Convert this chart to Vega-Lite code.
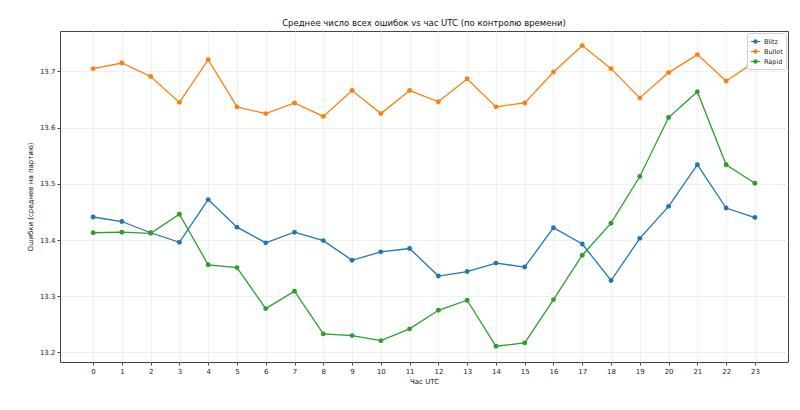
{
  "$schema": "https://vega.github.io/schema/vega-lite/v6.json",
  "width": 728,
  "height": 331,
  "autosize": {"type": "none"},
  "padding": {"left": 60, "top": 31, "right": 12, "bottom": 48},
  "background": "white",
  "title": {
    "text": "Среднее число всех ошибок vs час UTC (по контролю времени)",
    "font": "DejaVu Sans",
    "fontSize": 8.5,
    "fontWeight": "normal",
    "color": "#111",
    "offset": 4
  },
  "config": {
    "view": {"stroke": "#444", "strokeWidth": 1},
    "axis": {
      "labelFont": "DejaVu Sans",
      "titleFont": "DejaVu Sans",
      "labelFontSize": 7,
      "titleFontSize": 7,
      "titleFontWeight": "normal",
      "labelColor": "#222",
      "titleColor": "#111",
      "gridColor": "#ececec",
      "gridWidth": 0.8,
      "domain": false,
      "tickColor": "#444",
      "tickSize": 3
    }
  },
  "data": {
    "values": [
      {"hour": 0, "tc": "Blitz", "err": 13.441},
      {"hour": 1, "tc": "Blitz", "err": 13.433},
      {"hour": 2, "tc": "Blitz", "err": 13.413},
      {"hour": 3, "tc": "Blitz", "err": 13.396},
      {"hour": 4, "tc": "Blitz", "err": 13.472},
      {"hour": 5, "tc": "Blitz", "err": 13.423},
      {"hour": 6, "tc": "Blitz", "err": 13.395},
      {"hour": 7, "tc": "Blitz", "err": 13.414},
      {"hour": 8, "tc": "Blitz", "err": 13.399},
      {"hour": 9, "tc": "Blitz", "err": 13.364},
      {"hour": 10, "tc": "Blitz", "err": 13.379},
      {"hour": 11, "tc": "Blitz", "err": 13.385},
      {"hour": 12, "tc": "Blitz", "err": 13.336},
      {"hour": 13, "tc": "Blitz", "err": 13.344},
      {"hour": 14, "tc": "Blitz", "err": 13.359},
      {"hour": 15, "tc": "Blitz", "err": 13.352},
      {"hour": 16, "tc": "Blitz", "err": 13.422},
      {"hour": 17, "tc": "Blitz", "err": 13.393},
      {"hour": 18, "tc": "Blitz", "err": 13.328},
      {"hour": 19, "tc": "Blitz", "err": 13.403},
      {"hour": 20, "tc": "Blitz", "err": 13.46},
      {"hour": 21, "tc": "Blitz", "err": 13.534},
      {"hour": 22, "tc": "Blitz", "err": 13.457},
      {"hour": 23, "tc": "Blitz", "err": 13.44},
      {"hour": 0, "tc": "Bullet", "err": 13.705},
      {"hour": 1, "tc": "Bullet", "err": 13.715},
      {"hour": 2, "tc": "Bullet", "err": 13.691},
      {"hour": 3, "tc": "Bullet", "err": 13.645},
      {"hour": 4, "tc": "Bullet", "err": 13.721},
      {"hour": 5, "tc": "Bullet", "err": 13.637},
      {"hour": 6, "tc": "Bullet", "err": 13.625},
      {"hour": 7, "tc": "Bullet", "err": 13.644},
      {"hour": 8, "tc": "Bullet", "err": 13.62},
      {"hour": 9, "tc": "Bullet", "err": 13.666},
      {"hour": 10, "tc": "Bullet", "err": 13.625},
      {"hour": 11, "tc": "Bullet", "err": 13.666},
      {"hour": 12, "tc": "Bullet", "err": 13.646},
      {"hour": 13, "tc": "Bullet", "err": 13.687},
      {"hour": 14, "tc": "Bullet", "err": 13.637},
      {"hour": 15, "tc": "Bullet", "err": 13.644},
      {"hour": 16, "tc": "Bullet", "err": 13.699},
      {"hour": 17, "tc": "Bullet", "err": 13.746},
      {"hour": 18, "tc": "Bullet", "err": 13.705},
      {"hour": 19, "tc": "Bullet", "err": 13.653},
      {"hour": 20, "tc": "Bullet", "err": 13.698},
      {"hour": 21, "tc": "Bullet", "err": 13.73},
      {"hour": 22, "tc": "Bullet", "err": 13.683},
      {"hour": 23, "tc": "Bullet", "err": 13.717},
      {"hour": 0, "tc": "Rapid", "err": 13.413},
      {"hour": 1, "tc": "Rapid", "err": 13.414},
      {"hour": 2, "tc": "Rapid", "err": 13.412},
      {"hour": 3, "tc": "Rapid", "err": 13.446},
      {"hour": 4, "tc": "Rapid", "err": 13.356},
      {"hour": 5, "tc": "Rapid", "err": 13.351},
      {"hour": 6, "tc": "Rapid", "err": 13.278},
      {"hour": 7, "tc": "Rapid", "err": 13.309},
      {"hour": 8, "tc": "Rapid", "err": 13.233},
      {"hour": 9, "tc": "Rapid", "err": 13.23},
      {"hour": 10, "tc": "Rapid", "err": 13.221},
      {"hour": 11, "tc": "Rapid", "err": 13.242},
      {"hour": 12, "tc": "Rapid", "err": 13.275},
      {"hour": 13, "tc": "Rapid", "err": 13.293},
      {"hour": 14, "tc": "Rapid", "err": 13.211},
      {"hour": 15, "tc": "Rapid", "err": 13.217},
      {"hour": 16, "tc": "Rapid", "err": 13.294},
      {"hour": 17, "tc": "Rapid", "err": 13.373},
      {"hour": 18, "tc": "Rapid", "err": 13.43},
      {"hour": 19, "tc": "Rapid", "err": 13.513},
      {"hour": 20, "tc": "Rapid", "err": 13.618},
      {"hour": 21, "tc": "Rapid", "err": 13.664},
      {"hour": 22, "tc": "Rapid", "err": 13.534},
      {"hour": 23, "tc": "Rapid", "err": 13.501}
    ]
  },
  "mark": {
    "type": "line",
    "strokeWidth": 1.3,
    "point": {"filled": true, "size": 24, "opacity": 1}
  },
  "encoding": {
    "x": {
      "field": "hour",
      "type": "quantitative",
      "title": "Час UTC",
      "scale": {"domain": [-1.15, 24.15], "nice": false, "zero": false},
      "axis": {
        "values": [0, 1, 2, 3, 4, 5, 6, 7, 8, 9, 10, 11, 12, 13, 14, 15, 16, 17, 18, 19, 20, 21, 22, 23],
        "labelAngle": 0,
        "titlePadding": 3,
        "labelPadding": 2
      }
    },
    "y": {
      "field": "err",
      "type": "quantitative",
      "title": "Ошибки (среднее на партию)",
      "scale": {"domain": [13.183, 13.772], "nice": false, "zero": false},
      "axis": {
        "values": [13.2, 13.3, 13.4, 13.5, 13.6, 13.7],
        "format": ".1f",
        "titlePadding": 6,
        "labelPadding": 2
      }
    },
    "color": {
      "field": "tc",
      "type": "nominal",
      "scale": {
        "domain": ["Blitz", "Bullet", "Rapid"],
        "range": ["#1f77b4", "#ff7f0e", "#2ca02c"]
      },
      "legend": {
        "title": null,
        "orient": "top-right",
        "offset": 2,
        "labelFont": "DejaVu Sans",
        "labelFontSize": 6.5,
        "labelColor": "#222",
        "labelOffset": 3,
        "symbolType": "M-1,0L1,0M-0.35,0a0.35,0.35 0 1,0 0.7,0a0.35,0.35 0 1,0 -0.7,0",
        "symbolSize": 90,
        "symbolStrokeWidth": 1.2,
        "rowPadding": 0,
        "padding": 3,
        "strokeColor": "#d0d0d0",
        "fillColor": "white",
        "cornerRadius": 2
      }
    }
  }
}
